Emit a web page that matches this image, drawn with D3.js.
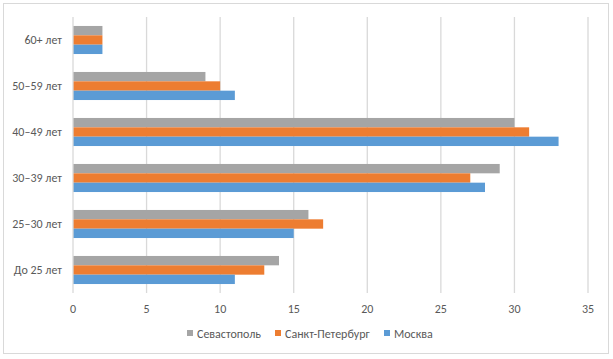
<!DOCTYPE html>
<html>
<head>
  <meta charset="utf-8">
  <script src="https://cdnjs.cloudflare.com/ajax/libs/d3/7.8.5/d3.min.js"></script>
  <style>
    body { margin: 0; background: #fff; }
    text { font-family: Calibri, Carlito, "Open Sans", sans-serif; fill: #595959; }
  </style>
</head>
<body>
<svg id="chart" width="613" height="359"></svg>
<script>
var categories = ["60+ лет", "50–59 лет", "40–49 лет", "30–39 лет", "25–30 лет", "До 25 лет"];
var seriesNames = ["Севастополь", "Санкт-Петербург", "Москва"];
var sevastopol = [2, 9, 30, 29, 16, 14];
var spb = [2, 10, 31, 27, 17, 13];
var moscow = [2, 11, 33, 28, 15, 11];
var xTicks = [0, 5, 10, 15, 20, 25, 30, 35];
var colors = ["#a5a5a5", "#ed7d31", "#5b9bd5"];

var series = [sevastopol, spb, moscow];

var svg = d3.select("#chart");

// outer frame
svg.append("rect")
  .attr("x", 3.5).attr("y", 3.5)
  .attr("width", 605).attr("height", 350)
  .attr("fill", "#fff")
  .attr("stroke", "#d9d9d9");

var x = d3.scaleLinear().domain([0, 35]).range([73, 588]);
var y = d3.scaleBand().domain(categories).range([17, 293]).paddingInner(0.39).paddingOuter(0.195);
var ySub = d3.scaleBand().domain(d3.range(3)).range([0, y.bandwidth()]);

// gridlines
svg.append("g").selectAll("line")
  .data(xTicks.slice(1))
  .enter().append("line")
  .attr("x1", d => x(d)).attr("x2", d => x(d))
  .attr("y1", 17).attr("y2", 293)
  .attr("stroke", "#d9d9d9")
  .attr("stroke-width", 1.3);

// bars
categories.forEach(function(c, i) {
  series.forEach(function(s, j) {
    svg.append("rect")
      .attr("x", x(0))
      .attr("y", y(c) + ySub(j))
      .attr("width", x(s[i]) - x(0))
      .attr("height", ySub.bandwidth())
      .attr("fill", colors[j]);
  });
});

// axis line
svg.append("line")
  .attr("x1", x(0)).attr("x2", x(0))
  .attr("y1", 17).attr("y2", 293)
  .attr("stroke", "#d9d9d9")
  .attr("stroke-width", 1.3);

// x tick labels
svg.append("g").selectAll("text")
  .data(xTicks)
  .enter().append("text")
  .attr("x", d => x(d))
  .attr("y", 313)
  .attr("text-anchor", "middle")
  .style("font-size", "12px")
  .text(d => d);

// category labels
svg.append("g").selectAll("text")
  .data(categories)
  .enter().append("text")
  .attr("x", 62)
  .attr("y", d => y(d) + y.bandwidth() / 2 + 4)
  .attr("text-anchor", "end")
  .style("font-size", "12px")
  .text(d => d);

// legend
var legendX = [187, 275, 384];
var lg = svg.append("g").selectAll("g")
  .data(seriesNames)
  .enter().append("g")
  .attr("transform", (d, i) => "translate(" + legendX[i] + ",334)");
lg.append("rect")
  .attr("x", 0).attr("y", -4)
  .attr("width", 6).attr("height", 6)
  .attr("fill", (d, i) => colors[i]);
lg.append("text")
  .attr("x", 10).attr("y", 3.5)
  .style("font-size", "12px")
  .text(d => d);
</script>
</body>
</html>
